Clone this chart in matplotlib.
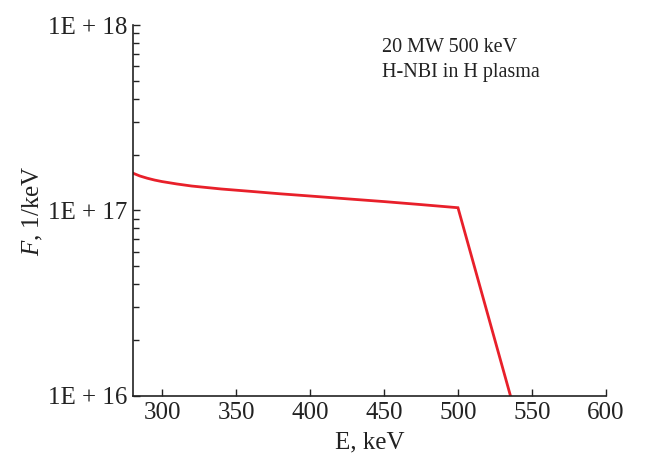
import matplotlib
matplotlib.use("Agg")
import matplotlib.pyplot as plt
from matplotlib.ticker import LogLocator, FixedLocator, NullFormatter

plt.rcParams['font.family'] = ['Liberation Serif', 'DejaVu Serif']
plt.rcParams['mathtext.fontset'] = 'custom'
plt.rcParams['mathtext.it'] = 'Liberation Serif:italic'
plt.rcParams['mathtext.rm'] = 'Liberation Serif'

# Data
energy_kev = [280.4, 285, 290, 295, 300, 310, 320, 340, 360, 380, 400, 425, 450, 475, 500, 535.5]
flux = [1.589e17, 1.535e17, 1.493e17, 1.459e17, 1.432e17, 1.390e17, 1.355e17, 1.306e17,
        1.268e17, 1.230e17, 1.197e17, 1.156e17, 1.117e17, 1.076e17, 1.035e17, 1.0e16]

xticks = [300, 350, 400, 450, 500, 550, 600]
yticks = [1e16, 1e17, 1e18]
ytick_labels = ["1E + 16", "1E + 17", "1E + 18"]

fig = plt.figure(figsize=(6.46, 4.58), dpi=100)
ax = fig.add_axes([0.2059, 0.1354, 0.938 - 0.2059, 0.9454 - 0.1354])

ax.plot(energy_kev, flux, color="#e8202a", lw=2.0, solid_joinstyle='miter')

ax.set_yscale("log")
ax.set_xlim(280.4, 600)
ax.set_ylim(1e16, 1e18)
ax.xaxis.set_major_locator(FixedLocator(xticks))
ax.set_yticks(yticks)
ax.set_yticklabels(ytick_labels)
ax.yaxis.set_minor_locator(LogLocator(base=10, subs=range(2, 10)))
ax.yaxis.set_minor_formatter(NullFormatter())

for s in ["top", "right"]:
    ax.spines[s].set_visible(False)
for s in ["left", "bottom"]:
    ax.spines[s].set_linewidth(1.2)
    ax.spines[s].set_color("#222222")

ax.tick_params(axis="both", which="major", direction="in", length=5, width=1.0,
               labelsize=18, colors="#222222", pad=4)
ax.tick_params(axis="y", which="minor", direction="in", length=4, width=1.0, colors="#222222")

ax.set_xlabel("E, keV", fontsize=18, color="#222222", labelpad=6)
ax.set_ylabel(r"$F$, 1/keV", fontsize=18, color="#222222", labelpad=2)

ax.text(0.5264, 0.965, "20 MW 500 keV\nH-NBI in H plasma", transform=ax.transAxes,
        ha="left", va="top", fontsize=14.5, color="#222222", linespacing=1.45)

fig.savefig("out.png", dpi=100)
